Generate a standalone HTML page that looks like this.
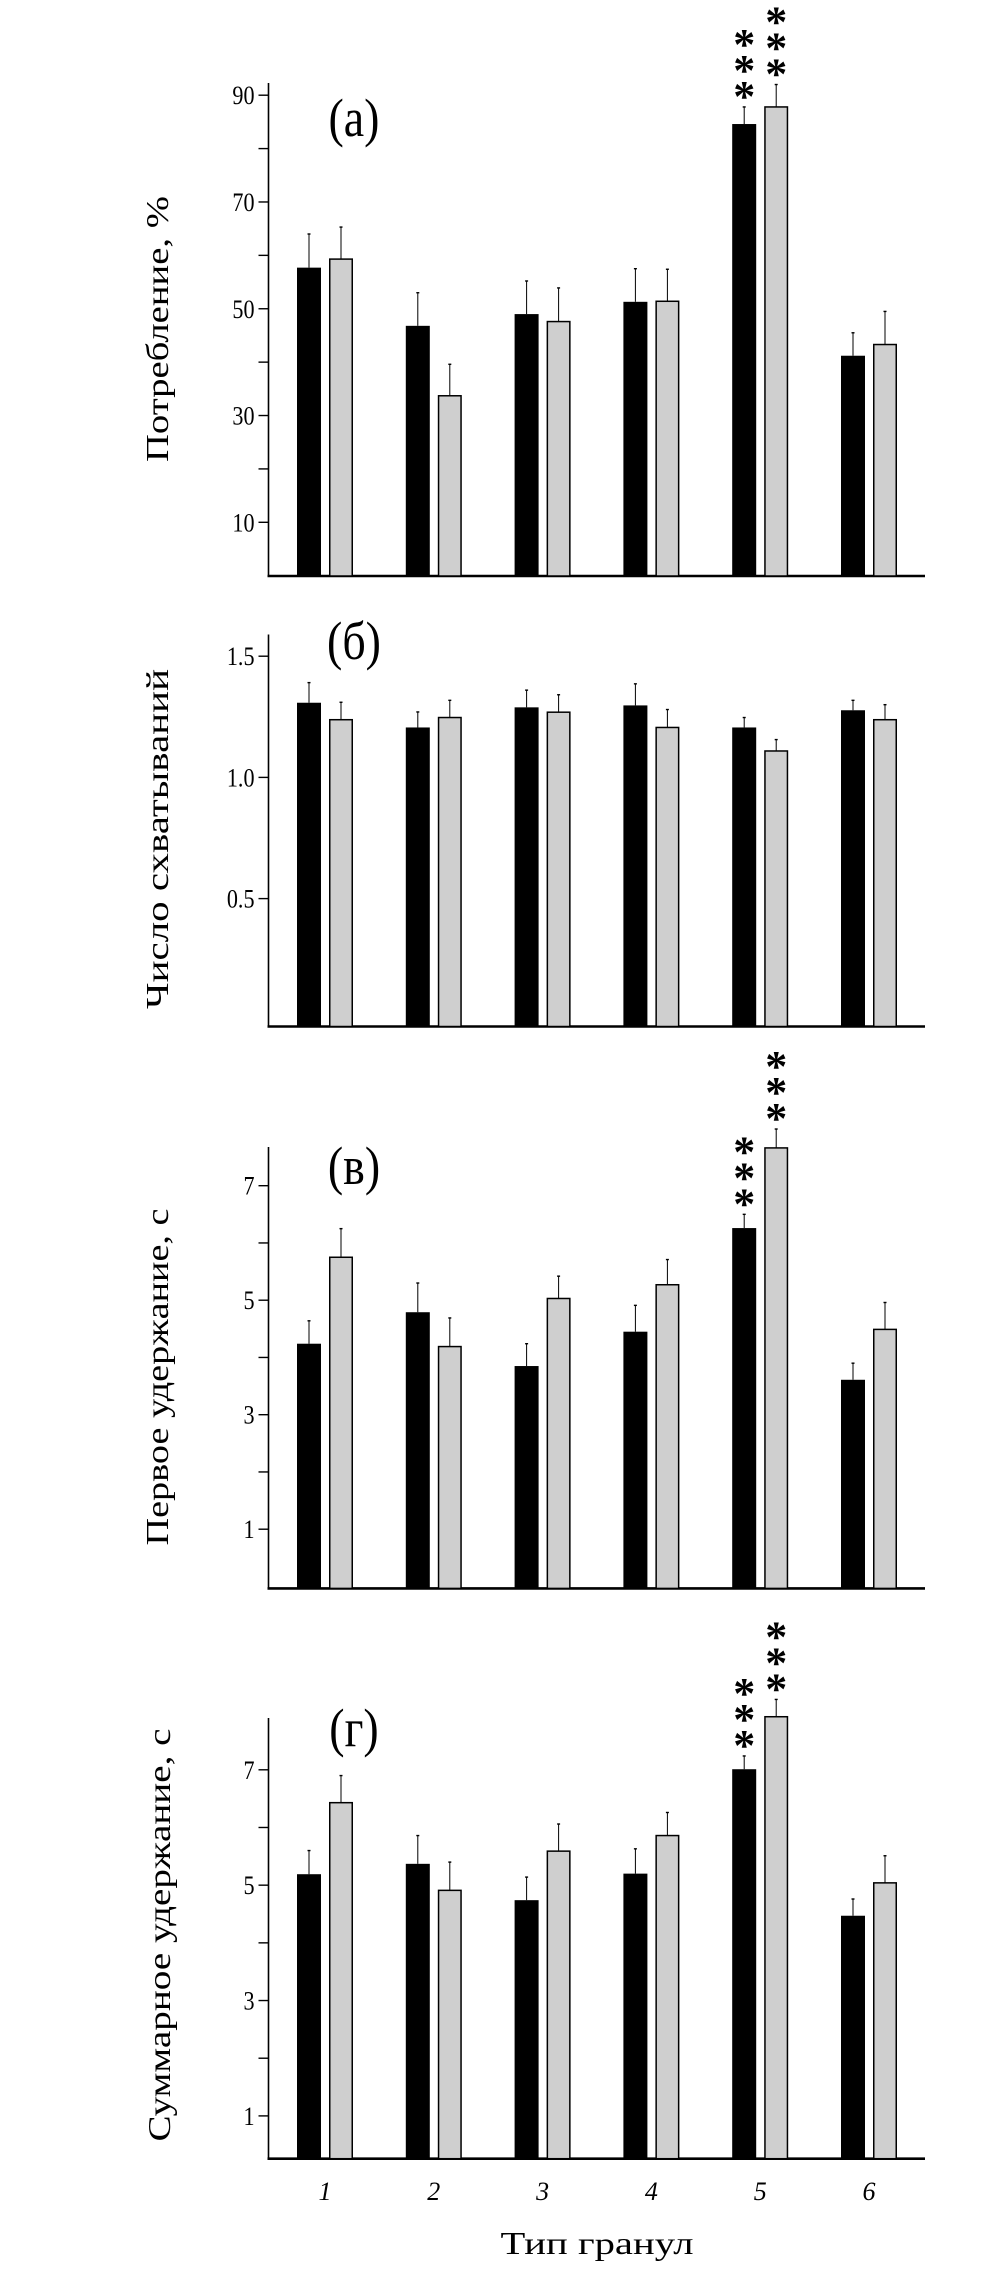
<!DOCTYPE html>
<html><head><meta charset="utf-8">
<style>
html,body{margin:0;padding:0;background:#fff;}
svg{display:block;font-family:"Liberation Serif","DejaVu Serif",serif;}
</style></head>
<body>
<svg id="chart" width="1004" height="2269" viewBox="0 0 1004 2269" xmlns="http://www.w3.org/2000/svg"></svg>
<script>
// ---- data ----
const categories = ["1","2","3","4","5","6"];
// panel (a) Потребление, %
const aBlack = [57.7, 46.8, 49.0, 51.3, 84.6, 41.2];
const aGray  = [59.3, 33.7, 47.6, 51.4, 87.8, 43.3];
const aBlackErr = [64.0, 53.0, 55.2, 57.5, 87.8, 45.5];
const aGrayErr  = [65.3, 39.6, 53.9, 57.4, 92.0, 49.5];
const aTicks = ["10","30","50","70","90"];
// panel (б) Число схватываний
const bBlack = [1.308, 1.206, 1.289, 1.297, 1.206, 1.277];
const bGray  = [1.238, 1.247, 1.269, 1.206, 1.109, 1.238];
const bBlackErr = [1.391, 1.270, 1.360, 1.386, 1.247, 1.318];
const bGrayErr  = [1.310, 1.318, 1.341, 1.280, 1.156, 1.300];
const bTicks = ["0.5","1.0","1.5"];
// panel (в) Первое удержание, с
const cBlack = [4.24, 4.79, 3.85, 4.45, 6.26, 3.61];
const cGray  = [5.75, 4.19, 5.03, 5.27, 7.66, 4.49];
const cBlackErr = [4.64, 5.30, 4.24, 4.91, 6.50, 3.90];
const cGrayErr  = [6.25, 4.69, 5.42, 5.71, 7.99, 4.96];
const cTicks = ["1","3","5","7"];
// panel (г) Суммарное удержание, с
const dBlack = [5.19, 5.37, 4.74, 5.20, 7.01, 4.47];
const dGray  = [6.43, 4.91, 5.59, 5.86, 7.92, 5.04];
const dBlackErr = [5.60, 5.86, 5.14, 5.63, 7.24, 4.76];
const dGrayErr  = [6.90, 5.40, 6.06, 6.26, 8.22, 5.51];
const dTicks = ["1","3","5","7"];
// significance stars (number per bar)
const aStars = [[0,0],[0,0],[0,0],[0,0],[3,3],[0,0]];
const bStars = [[0,0],[0,0],[0,0],[0,0],[0,0],[0,0]];
const cStars = [[0,0],[0,0],[0,0],[0,0],[3,3],[0,0]];
const dStars = [[0,0],[0,0],[0,0],[0,0],[3,3],[0,0]];

const NS = "http://www.w3.org/2000/svg";
const svg = document.getElementById("chart");
function mk(tag, attrs, parent){
  const e = document.createElementNS(NS, tag);
  for (const k in attrs) e.setAttribute(k, attrs[k]);
  (parent||svg).appendChild(e);
  return e;
}
const AX = 268.5, AXEND = 925;
const X0 = 297, GSTEP = 108.8, BW = 24, GAP = 8;
function xBlack(i){ return X0 + i*GSTEP; }
function xGray(i){ return X0 + i*GSTEP + BW + GAP; }

function panel(cfg){
  const g = mk("g", {});
  
  
  const sc = (cfg.p1 - cfg.p0)/(cfg.v1 - cfg.v0);
  const y = v => cfg.p0 + (v - cfg.v0)*sc;
  const ya = mk("line", {x1:AX, y1:cfg.top, x2:AX, y2:cfg.base, stroke:"#000","stroke-width":1.6}, g);
  
  
  const xa = mk("line", {x1:AX-1, y1:cfg.base, x2:AXEND, y2:cfg.base, stroke:"#000","stroke-width":2.6}, g);
  
  
  cfg.ticks.forEach(t => {
    const v = parseFloat(t), ty = y(v);
    const tl = mk("line", {x1:AX-10, y1:ty, x2:AX, y2:ty, stroke:"#000","stroke-width":1.4}, g);
    
    
    const tx = mk("text", {x:0, y:0, "text-anchor":"end", "font-size":26,
      transform:`translate(${AX-14},${ty+9}) scale(0.85,1)`}, g);
    tx.textContent = t;
    
    
  });
  (cfg.minor||[]).forEach(v => {
    const ty = y(v);
    const tl = mk("line", {x1:AX-10, y1:ty, x2:AX, y2:ty, stroke:"#000","stroke-width":1.4}, g);
    
    
  });
  categories.forEach((c, i) => {
    [[cfg.black, cfg.bErr, xBlack(i), "#000", "bar-black-"+c],
     [cfg.gray, cfg.gErr, xGray(i), "#cfcfcf", "bar-gray-"+c]].forEach(([vals, errs, bx, fill, nm], k) => {
      const ty = y(vals[i]), ey = y(errs[i]);
      const cx = bx + BW/2;
      const el = mk("line", {x1:cx, y1:ty, x2:cx, y2:ey, stroke:"#000","stroke-width":1}, g);
      
      
      const cap = mk("line", {x1:cx-1.5, y1:ey, x2:cx+1.5, y2:ey, stroke:"#000","stroke-width":1.4}, g);
      
      
      const r = mk("rect", {x:bx+(k?0.75:0), y:ty, width:BW-(k?1.5:0), height:cfg.base-ty, fill:fill, stroke:k?"#000":"none","stroke-width":1.5}, g);
      
      
      const n = cfg.stars[i][k];
      for (let s=0; s<n; s++){
        const sy = ey - 17 - s*26;
        const st = mk("text", {x:cx, y:sy+21, "text-anchor":"middle", "font-size":44, "font-weight":"bold"}, g);
        st.textContent = "*";
        
        
      }
    });
  });
  const pl = mk("text", {x:0, y:0, "text-anchor":"middle", "font-size":54,
    transform:`translate(354,${cfg.labY}) scale(0.85,1)`}, g);
  pl.textContent = cfg.label;
  
  
  const yt = mk("text", {x:0, y:0, "text-anchor":"middle", "font-size":32,
     transform:`translate(${cfg.tx},${cfg.tcy}) rotate(-90)`, textLength:cfg.tlen, lengthAdjust:"spacingAndGlyphs"}, g);
  yt.textContent = cfg.title;
  
  
}

panel({name:"panel-a", v0:10, p0:522.3, v1:90, p1:95.2, base:576, top:83,
  ticks:aTicks, minor:[20,40,60,80], black:aBlack, gray:aGray, bErr:aBlackErr, gErr:aGrayErr,
  stars:aStars, label:"(а)", labY:136, title:"Потребление, %", tx:168, tcy:329, tlen:266});
panel({name:"panel-b", v0:0.5, p0:898.6, v1:1.5, p1:656.2, base:1026.5, top:634.5,
  ticks:bTicks, minor:[], black:bBlack, gray:bGray, bErr:bBlackErr, gErr:bGrayErr,
  stars:bStars, label:"(б)", labY:659, title:"Число  схватываний", tx:168, tcy:839, tlen:340});
panel({name:"panel-v", v0:1, p0:1529.2, v1:7, p1:1185.7, base:1588.4, top:1147,
  ticks:cTicks, minor:[2,4,6], black:cBlack, gray:cGray, bErr:cBlackErr, gErr:cGrayErr,
  stars:cStars, label:"(в)", labY:1184, title:"Первое  удержание, с", tx:168, tcy:1377, tlen:337});
panel({name:"panel-g", v0:1, p0:2115.9, v1:7, p1:1769.8, base:2158.7, top:1718,
  ticks:dTicks, minor:[2,4,6], black:dBlack, gray:dGray, bErr:dBlackErr, gErr:dGrayErr,
  stars:dStars, label:"(г)", labY:1746, title:"Суммарное  удержание, с", tx:170, tcy:1935, tlen:413});

categories.forEach((c, i) => {
  const t = mk("text", {x:xBlack(i) + (BW+GAP+BW)/2, y:2200, "text-anchor":"middle", "font-size":26, "font-style":"italic"});
  t.textContent = c;
  
  
});
const xt = mk("text", {x:597, y:2254, "text-anchor":"middle", "font-size":32, textLength:193, lengthAdjust:"spacingAndGlyphs"});
xt.textContent = "Тип гранул";


</script>
</body></html>
